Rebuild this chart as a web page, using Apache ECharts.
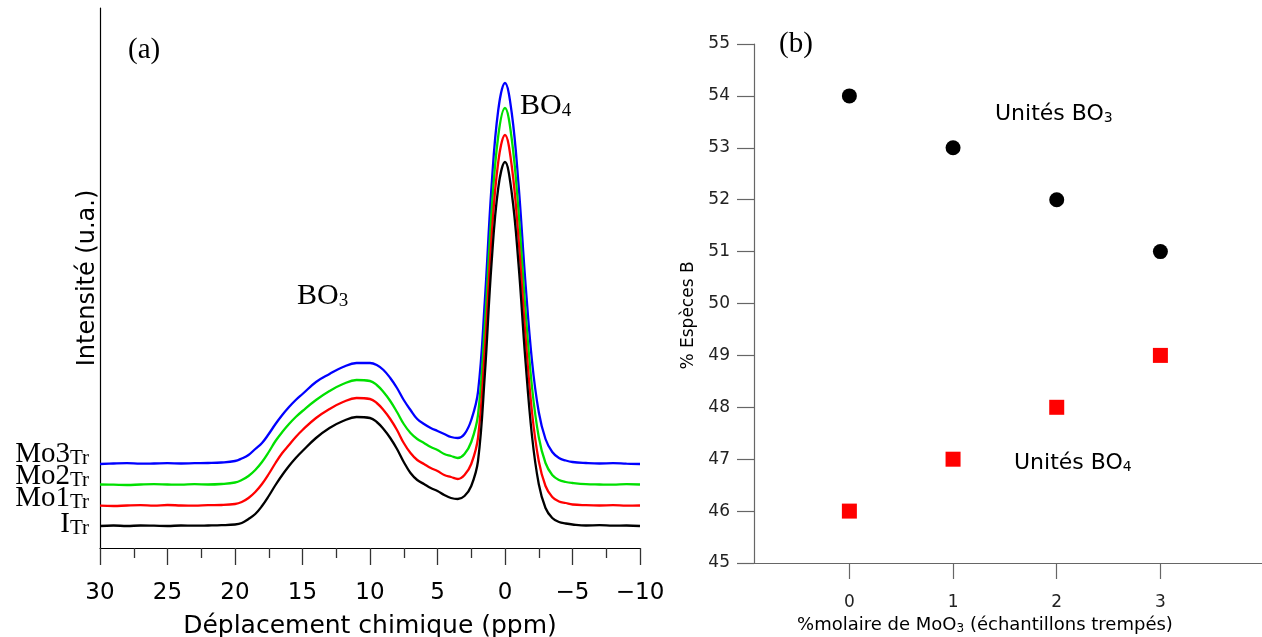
<!DOCTYPE html>
<html><head><meta charset="utf-8">
<script src="https://cdn.jsdelivr.net/npm/echarts@6/dist/echarts.min.js"></script>
<style>html,body{margin:0;padding:0;background:#fff}#c{width:1262px;height:637px}</style>
</head><body><div id="c"></div>
<script>
// ---- Panel (a): 11B NMR spectra (chemical shift, ppm) ----
const ppm = [30,29,28,27,26,25,24,23,22,21,20,19.5,19,18.5,18,17.5,17,16.5,16,15.5,15,14,13,12,11,10,9.5,9,8.5,8,7.5,7,6.5,6,5.5,5,4.5,4,3.5,3,2.5,2,1.5,1,0.5,0,-0.5,-1,-1.5,-2,-2.5,-3,-3.5,-4,-4.5,-5,-6,-7,-8,-9,-10];
const intensityI = [0,0.5,0,0.5,0.3,0,0.5,0.3,0.5,0.8,1.5,3,7,12,20,30,41,51,60,68,75,88,98,105,109,108,104,97,88,77,64,53,46,42,38,35,31,28,27,30,40,65,150,262,338,364,333,262,168,90,42,18,8,4,2.5,1.5,0.5,0.8,0.3,0.5,0];
const intensityMo1 = [0.3,0,0.5,0.8,0.3,1,0.5,0.3,0.8,1,2,4,8,14,22,32,43,53,61,69,76,88,97,104,108,107,103,96,87,76,63,53,46,42,38,35,31,29,27,31,42,68,155,268,344,371,340,268,173,94,45,20,9,4.5,3,1.5,0.8,0.5,0.8,0.3,0.5];
const intensityMo2 = [0.5,0.3,0,0.5,0.8,0.5,0.3,0.8,0.5,1,2.5,5,9,15,23,33,44,53,61,68,74,85,94,101,105,104,100,93,84,73,61,52,46,42,38,35,31,29,27,31,43,70,158,272,349,377,346,274,178,98,48,22,10,5,3,2,0.8,0.5,0.3,0.8,0.5];
const intensityMo3 = [0,0.5,0.8,0.3,0.5,0.8,0.5,0.8,1,1.5,3,5.5,9,15,21,30,40,49,57,64,70,82,90,97,101,101,99,94,86,76,64,54,45,40,36,33,30,27,26,30,44,72,162,277,354,381,351,280,184,103,52,25,12,6,3.5,2,1,0.5,0.8,0.3,0];
const spectraNames = ['I', 'Mo1', 'Mo2', 'Mo3'];
const spectraOffsets = [0, 20, 41, 62];   // vertical stacking offsets (u.a.)
const spectraColors = ['#000000', '#ff0000', '#00e000', '#0000ff'];
const xTicksA = [30,25,20,15,10,5,0,-5,-10];

// ---- Panel (b): % of boron species vs mol% MoO3 ----
const moo3 = [0, 1, 2, 3];
const bo3Units = [54, 53, 52, 51];
const bo4Units = [46, 47, 48, 49];

const SANS = 'DejaVu Sans';
const SERIF = 'Liberation Serif';

const spectra = [intensityI, intensityMo1, intensityMo2, intensityMo3];
const lineSeries = [];
for (let k = spectra.length - 1; k >= 0; k--) {
  lineSeries.push({
    name: spectraNames[k], type: 'line', xAxisIndex: 0, yAxisIndex: 0,
    data: ppm.map((p, i) => [p, spectra[k][i] + spectraOffsets[k]]),
    showSymbol: false, smooth: 0.4,
    lineStyle: { color: spectraColors[k], width: 2.3 }, z: 3 + (3 - k)
  });
}

const chart = echarts.init(document.getElementById('c'), null, { renderer: 'canvas' });
const minus = v => (v < 0 ? '\u2212' + Math.abs(v) : String(v));

const labelRich = (c) => ({
  m: { fontFamily: SERIF, fontSize: 29, color: c, verticalAlign: 'bottom', lineHeight: 31 },
  s: { fontFamily: SERIF, fontSize: 21, color: c, verticalAlign: 'bottom', lineHeight: 26 }
});
const legendY = [533, 507, 485, 463];
const legendG = spectraNames.map((n, k) => ({
  type: 'text', right: 1262 - 89, top: legendY[k] - 23,
  style: { text: '{m|' + n + '}{s|Tr}', rich: labelRich(spectraColors[k]), textAlign: 'right' }
}));

const subRich = (c, big, small, lh1, lh2, fam) => ({
  m: { fontFamily: fam, fontSize: big, color: c, verticalAlign: 'bottom', lineHeight: lh1 },
  s: { fontFamily: fam, fontSize: small, color: c, verticalAlign: 'bottom', lineHeight: lh2 }
});

const option = {
  animation: false,
  backgroundColor: '#fff',
  grid: [
    { left: 100, top: 8, width: 540, height: 540, outerBoundsMode: 'none', containLabel: false },
    { left: 754, top: 44, width: 508, height: 519, outerBoundsMode: 'none', containLabel: false }
  ],
  xAxis: [
    {
      gridIndex: 0, type: 'value', inverse: true, min: -10, max: 30, interval: 5,
      name: 'Déplacement chimique (ppm)', nameLocation: 'middle', nameGap: 66,
      nameTextStyle: { fontFamily: SANS, fontSize: 25, color: '#000' },
      axisLine: { show: true, onZero: false, lineStyle: { color: '#000', width: 1.2 } },
      axisTick: { show: true, inside: false, length: 17, lineStyle: { color: '#333', width: 1.3 } },
      minorTick: { show: true, splitNumber: 2, length: 10, lineStyle: { color: '#333', width: 1.3 } },
      splitLine: { show: false }, minorSplitLine: { show: false },
      axisLabel: { margin: 34, fontFamily: SANS, fontSize: 23, color: '#000', formatter: minus, customValues: xTicksA }
    },
    {
      gridIndex: 1, type: 'value', min: -0.92, max: 3.98,
      name: '%molaire de MoO{s|3} (échantillons trempés)', nameLocation: 'middle', nameGap: 52,
      nameTextStyle: { fontFamily: SANS, fontSize: 18, color: '#000', padding: [0, 46, 0, 0],
        rich: { s: { fontFamily: SANS, fontSize: 12, color: '#000', padding: [7, 0, 0, 0] } } },
      axisLine: { show: true, onZero: false, lineStyle: { color: '#666', width: 1.2 } },
      axisTick: { show: true, length: 16, customValues: moo3, lineStyle: { color: '#666', width: 1.2 } },
      axisLabel: { margin: 31, fontFamily: SANS, fontSize: 17, color: '#222', customValues: moo3 },
      splitLine: { show: false }
    }
  ],
  yAxis: [
    {
      gridIndex: 0, type: 'value', min: -22, max: 518,
      name: 'Intensité (u.a.)', nameLocation: 'middle', nameGap: 0,
      nameTextStyle: { fontFamily: SANS, fontSize: 24, color: '#000' },
      axisLine: { show: true, onZero: false, lineStyle: { color: '#000', width: 1.2 } },
      axisTick: { show: false }, axisLabel: { show: false }, splitLine: { show: false }
    },
    {
      gridIndex: 1, type: 'value', min: 45, max: 55, interval: 1,
      name: '% Espèces B', nameLocation: 'middle', nameGap: 57,
      nameTextStyle: { fontFamily: SANS, fontSize: 17, color: '#000', padding: [0, 24, 0, 0] },
      axisLine: { show: true, onZero: false, lineStyle: { color: '#666', width: 1.2 } },
      axisTick: { show: true, length: 17, lineStyle: { color: '#666', width: 1.2 } },
      axisLabel: { margin: 24, fontFamily: SANS, fontSize: 17, color: '#222' },
      splitLine: { show: false }
    }
  ],
  series: lineSeries.concat([
    { name: 'Unités BO3', type: 'scatter', xAxisIndex: 1, yAxisIndex: 1,
      data: moo3.map((x, i) => [x, bo3Units[i]]), symbol: 'circle', symbolSize: 15,
      itemStyle: { color: '#000', opacity: 1 } },
    { name: 'Unités BO4', type: 'scatter', xAxisIndex: 1, yAxisIndex: 1,
      data: moo3.map((x, i) => [x, bo4Units[i]]), symbol: 'rect', symbolSize: 15,
      itemStyle: { color: '#ff0000', opacity: 1 } }
  ]),
  graphic: legendG.concat([
    { type: 'text', left: 128, top: 36, style: { text: '(a)', fontFamily: SERIF, fontSize: 29, fill: '#000' } },
    { type: 'text', left: 779, top: 30, style: { text: '(b)', fontFamily: SERIF, fontSize: 29, fill: '#000' } },
    { type: 'text', left: 297, top: 281, style: { text: '{m|BO}{s|3}', rich: subRich('#000', 30, 19, 31, 25, SERIF) } },
    { type: 'text', left: 520, top: 91, style: { text: '{m|BO}{s|4}', rich: subRich('#000', 30, 19, 31, 25, SERIF) } },
    { type: 'text', left: 995, top: 103, style: { text: '{m|Unités BO}{s|3}', rich: subRich('#000', 22, 14, 26, 22, SANS) } },
    { type: 'text', left: 1014, top: 452, style: { text: '{m|Unités BO}{s|4}', rich: subRich('#ff0000', 22, 14, 26, 22, SANS) } }
  ])
};
chart.setOption(option);
</script>
</body></html>
